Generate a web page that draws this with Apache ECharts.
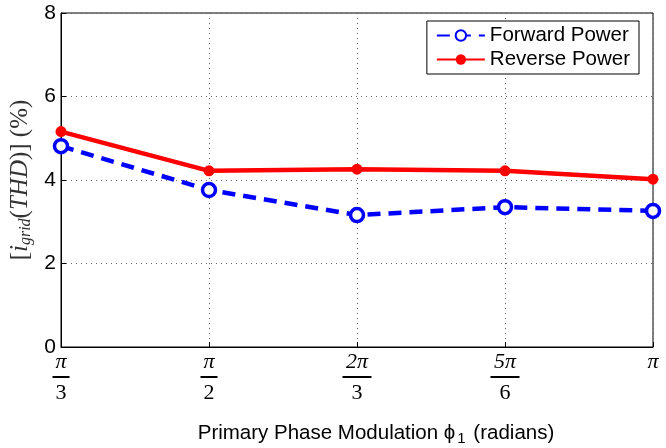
<!DOCTYPE html>
<html>
<head>
<meta charset="utf-8">
<script src="https://cdn.jsdelivr.net/npm/echarts@6/dist/echarts.min.js"></script>
<style>
html,body{margin:0;padding:0;background:#fff;}
#chart{width:666px;height:448px;}
</style>
</head>
<body>
<div id="chart"></div>
<script>
// x categories: numerator / denominator of the phase value
var categories = ['π/3', 'π/2', '2π/3', '5π/6', 'π'];
var forwardPower = [4.81, 3.76, 3.16, 3.35, 3.26];
var reversePower = [5.16, 4.22, 4.26, 4.22, 4.02];
var yTicks = [0, 2, 4, 6, 8];

var myChart = echarts.init(document.getElementById('chart'));

function fracLabel(v){
	var parts = v.split('/');
	if(parts.length < 2){
		return '{n|' + parts[0] + '}';
	}
	var barName = parts[0].length > 1 ? 'barw' : 'bar';
	return '{n|' + parts[0] + '}\n{' + barName + '|}\n{d|' + parts[1] + '}';
}

var serif = 'Liberation Serif';
var option = {
	animation : false,
	grid : {
		left : 61,
		right : 13,
		top : 13,
		bottom : 101,
		containLabel : false,
		outerBoundsMode : 'none',
		show : true,
		borderColor : '#000',
		borderWidth : 1
	},
	legend : {
		right : 27,
		top : 21,
		orient : 'vertical',
		backgroundColor : '#fff',
		borderColor : '#000',
		borderWidth : 1,
		borderRadius : 0,
		padding : [4, 9, 4, 9],
		itemGap : 3,
		itemWidth : 48,
		itemHeight : 13,
		textStyle : {fontFamily : 'Liberation Sans', fontSize : 20.5, color : '#000'},
		data : ['Forward Power', 'Reverse Power']
	},
	xAxis : [{
		type : 'category',
		data : categories,
		boundaryGap : false,
		axisLine : {lineStyle : {color : '#000'}},
		axisTick : {inside : true, length : 5, lineStyle : {color : '#000'}},
		splitLine : {show : true, lineStyle : {color : '#666', type : [1, 4], width : 1}},
		axisLabel : {
			margin : 5,
			formatter : fracLabel,
			rich : {
				n : {fontFamily : serif, fontStyle : 'italic', fontSize : 22, color : '#000', lineHeight : 21, align : 'center'},
				d : {fontFamily : serif, fontSize : 22, color : '#000', lineHeight : 24, align : 'center'},
				bar : {width : 17, height : 2, backgroundColor : '#000', lineHeight : 8, align : 'center'},
				barw : {width : 29, height : 2, backgroundColor : '#000', lineHeight : 8, align : 'center'}
			}
		},
		name : '{a|Primary Phase Modulation ϕ}{s|1}{a| (radians)}',
		nameLocation : 'middle',
		nameGap : 74,
		nameTextStyle : {
			padding : [0, 0, 0, 38],
			rich : {
				a : {fontFamily : 'Liberation Sans', fontSize : 20.5, color : '#000'},
				s : {fontFamily : 'Liberation Sans', fontSize : 15, color : '#000', padding : [10, 2, 0, 2]}
			}
		}
	}],
	yAxis : [{
		type : 'value',
		min : yTicks[0],
		max : yTicks[yTicks.length - 1],
		interval : 2,
		axisLine : {show : true, lineStyle : {color : '#000'}},
		axisTick : {show : true, inside : true, length : 5, lineStyle : {color : '#000'}},
		splitLine : {show : true, lineStyle : {color : '#666', type : [1, 4], width : 1}},
		axisLabel : {fontFamily : 'Liberation Sans', fontSize : 21, color : '#000', margin : 5},
		name : '{t|[}{i|i}{s|grid}{t|(}{i|THD}{t|)] (%)}',
		nameLocation : 'middle',
		nameRotate : 90,
		nameGap : 24,
		nameTextStyle : {
			rich : {
				t : {fontFamily : serif, fontSize : 25, color : '#333'},
				i : {fontFamily : serif, fontStyle : 'italic', fontSize : 25, color : '#333'},
				s : {fontFamily : serif, fontStyle : 'italic', fontSize : 16, color : '#333', padding : [10, 0, 0, 0]}
			}
		}
	}],
	series : [{
		name : 'Forward Power',
		type : 'line',
		data : forwardPower,
		symbol : 'circle',
		symbolSize : 13,
		itemStyle : {color : '#fff', borderColor : '#0000ff', borderWidth : 3.5},
		lineStyle : {color : '#0000ff', width : 4.5, type : [13, 8]},
		z : 3
	},{
		name : 'Reverse Power',
		type : 'line',
		data : reversePower,
		symbol : 'circle',
		symbolSize : 11,
		itemStyle : {color : '#ff0000', borderColor : '#ff0000', borderWidth : 0},
		lineStyle : {color : '#ff0000', width : 4.5},
		z : 2
	}]
};
myChart.setOption(option);
</script>
</body>
</html>
